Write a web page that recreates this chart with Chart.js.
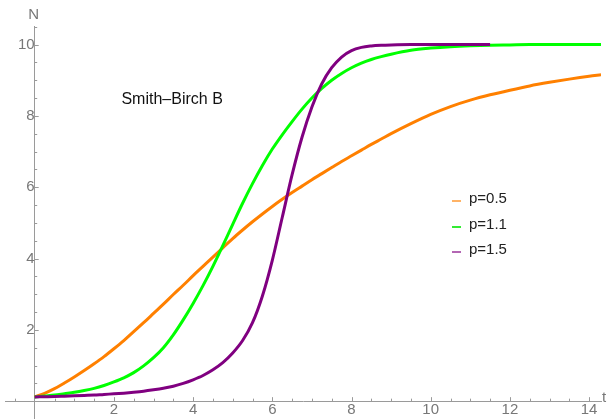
<!DOCTYPE html>
<html>
<head>
<meta charset="utf-8">
<script src="https://cdn.jsdelivr.net/npm/chart.js@4.4.1/dist/chart.umd.min.js"></script>
<style>
  body { margin: 0; background: #fff; }
  #wrap { position: relative; width: 608px; height: 419px; }
  #legend {
    position: absolute; left: 452px; top: 185px;
    list-style: none; margin: 0; padding: 0;
    font: 15px 'Liberation Sans', Arial, sans-serif; color: #222;
  }
  #legend li { height: 25.5px; line-height: 25.5px; white-space: nowrap; }
  #legend span {
    display: inline-block; width: 9px; height: 2px;
    margin-right: 8px; vertical-align: middle; position: relative; top: 2px;
  }
</style>
</head>
<body>
<div id="wrap"><canvas id="chart"></canvas><ul id="legend"></ul></div>
<script>
/* globals Chart:false */
(() => {
  'use strict'

  // time samples (t) and N values
  const tValues = [
    0, 0.25, 0.5, 0.75, 1, 1.25, 1.5, 1.75, 2, 2.25, 2.5, 2.75, 3, 3.25, 3.5, 3.75,
    4, 4.25, 4.5, 4.75, 5, 5.25, 5.5, 5.75, 6, 6.25, 6.5, 6.75, 7, 7.25, 7.5, 7.75,
    8, 8.25, 8.5, 8.75, 9, 9.5, 10, 10.5, 11, 11.5, 12, 12.5, 13, 13.5, 14, 14.3
  ]

  const nP05 = [
    0.12, 0.22, 0.35, 0.51, 0.68, 0.86, 1.05, 1.25, 1.47, 1.7, 1.95, 2.2, 2.46, 2.72, 2.99, 3.25,
    3.52, 3.78, 4.04, 4.3, 4.56, 4.8, 5.03, 5.25, 5.46, 5.66, 5.85, 6.03, 6.21, 6.38, 6.55, 6.72,
    6.88, 7.04, 7.2, 7.35, 7.5, 7.78, 8.04, 8.26, 8.44, 8.59, 8.72, 8.84, 8.94, 9.03, 9.11, 9.15
  ]

  const nP11 = [
    0.12, 0.145, 0.17, 0.21, 0.25, 0.3, 0.36, 0.44, 0.54, 0.655, 0.8, 0.99, 1.22, 1.5, 1.86, 2.28,
    2.74, 3.24, 3.78, 4.36, 4.96, 5.55, 6.1, 6.61, 7.07, 7.47, 7.84, 8.19, 8.5, 8.77, 9.0, 9.19,
    9.35, 9.48, 9.58, 9.66, 9.73, 9.84, 9.9, 9.94, 9.965, 9.98, 9.99, 10.0, 10.0, 10.0, 10.0, 10.0
  ]

  // p=1.5 curve stops at t=11.5
  const nP15 = [
    0.12, 0.125, 0.13, 0.14, 0.15, 0.16, 0.17, 0.19, 0.205, 0.225, 0.25, 0.28, 0.32, 0.365, 0.42, 0.5,
    0.6, 0.72, 0.88, 1.08, 1.35, 1.7, 2.2, 2.95, 3.95, 5.15, 6.35, 7.4, 8.25, 8.9, 9.35, 9.65,
    9.83, 9.92, 9.96, 9.98, 9.99, 10.0, 10.0, 10.0, 10.0, 10.0
  ]

  const seriesLabels = ['p=0.5', 'p=1.1', 'p=1.5']
  const seriesColors = ['#ff8000', '#00ff00', '#800080']
  const legendColors = ['rgba(255,128,0,0.6)', 'rgba(0,230,0,0.8)', 'rgba(128,0,128,0.6)']

  const xTickLabels = [2, 4, 6, 8, 10, 12, 14]
  const yTickLabels = [2, 4, 6, 8, 10]

  const axisColor = '#9a9a9a'
  const labelColor = '#777'
  const fontFamily = "'Liberation Sans', Arial, sans-serif"

  const toPoints = (ys) => ys.map((y, i) => ({ x: tValues[i], y }))

  const makeSet = (i, ys, order) => ({
    label: seriesLabels[i],
    data: toPoints(ys),
    borderColor: seriesColors[i],
    backgroundColor: legendColors[i],
    borderWidth: 3,
    pointRadius: 0,
    cubicInterpolationMode: 'monotone',
    fill: false,
    order
  })

  // axes sit inside the plot, so they should not eat any room
  const noPadding = (scale) => {
    scale.paddingTop = 0
    scale.paddingBottom = 0
    scale.paddingLeft = 0
    scale.paddingRight = 0
  }

  // Mathematica-style inward ticks, axis names and the text inside the plot
  const decorations = {
    id: 'decorations',
    afterDraw (chart) {
      const { ctx, scales: { x, y } } = chart
      const x0 = x.getPixelForValue(0)
      const y0 = y.getPixelForValue(0)
      ctx.save()
      ctx.strokeStyle = axisColor
      ctx.lineWidth = 1
      ctx.beginPath()
      x.ticks.forEach(t => {
        if (t.value === 0) return
        const px = Math.round(x.getPixelForValue(t.value)) + 0.5
        const len = t.value % 2 === 0 ? 4 : 2.5
        ctx.moveTo(px, y0)
        ctx.lineTo(px, y0 - len)
      })
      y.ticks.forEach(t => {
        if (t.value === 0) return
        const py = Math.round(y.getPixelForValue(t.value)) + 0.5
        const len = t.value % 2 === 0 ? 4 : 2.5
        ctx.moveTo(x0, py)
        ctx.lineTo(x0 + len, py)
      })
      ctx.stroke()

      ctx.fillStyle = labelColor
      ctx.font = '15px ' + fontFamily
      ctx.textAlign = 'center'
      ctx.textBaseline = 'middle'
      ctx.fillText('N', x0 - 1, 15)
      ctx.textAlign = 'left'
      ctx.fillText('t', chart.chartArea.right + 1, y0 - 3)

      ctx.fillStyle = '#111'
      ctx.font = '16px ' + fontFamily
      ctx.textAlign = 'center'
      ctx.fillText('Smith\u2013Birch B', x.getPixelForValue(3.47), y.getPixelForValue(8.47))
      ctx.restore()
    }
  }

  // legend as plain html, built from the datasets
  const htmlLegend = {
    id: 'htmlLegend',
    afterUpdate (chart) {
      const ul = document.getElementById('legend')
      ul.innerHTML = ''
      chart.data.datasets.forEach(ds => {
        const li = document.createElement('li')
        const sw = document.createElement('span')
        sw.style.background = ds.backgroundColor
        li.appendChild(sw)
        li.appendChild(document.createTextNode(ds.label))
        ul.appendChild(li)
      })
    }
  }

  const ctx = document.getElementById('chart')
  // eslint-disable-next-line no-unused-vars
  const myChart = new Chart(ctx, {
    type: 'line',
    data: {
      datasets: [
        makeSet(0, nP05, 3),
        makeSet(1, nP11, 2),
        makeSet(2, nP15, 1)
      ]
    },
    plugins: [decorations, htmlLegend],
    options: {
      responsive: true,
      maintainAspectRatio: false,
      animation: false,
      layout: { padding: { left: 5, right: 7, top: 26, bottom: 0 } },
      plugins: {
        legend: { display: false },
        tooltip: { enabled: false }
      },
      scales: {
        x: {
          type: 'linear',
          position: { y: 0 },
          min: -0.75,
          max: 14.3,
          afterFit: noPadding,
          grid: { display: false, drawTicks: false },
          border: { display: true, color: axisColor, width: 1 },
          ticks: {
            stepSize: 0.5,
            includeBounds: false,
            autoSkip: false,
            maxRotation: 0,
            padding: 0,
            color: labelColor,
            font: { family: fontFamily, size: 15 },
            callback: v => xTickLabels.includes(v) ? String(v) : ''
          }
        },
        y: {
          type: 'linear',
          position: { x: 0 },
          min: -0.5,
          max: 10.52,
          afterFit: noPadding,
          grid: { display: false, drawTicks: false },
          border: { display: true, color: axisColor, width: 1 },
          ticks: {
            stepSize: 0.5,
            includeBounds: false,
            autoSkip: false,
            padding: 3,
            color: labelColor,
            font: { family: fontFamily, size: 15 },
            callback: v => yTickLabels.includes(v) ? String(v) : ''
          }
        }
      }
    }
  })
})()
</script>
</body>
</html>
